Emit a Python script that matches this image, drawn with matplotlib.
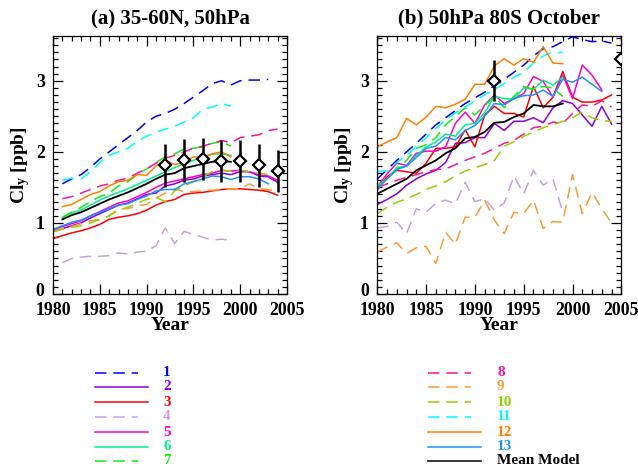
import matplotlib
matplotlib.use("Agg")
import matplotlib.pyplot as plt
from matplotlib.lines import Line2D
from matplotlib.ticker import MultipleLocator, FixedLocator
from matplotlib.transforms import ScaledTranslation
import numpy as np

plt.rcParams['font.family'] = ['Liberation Serif', 'DejaVu Serif']
plt.rcParams['font.weight'] = 'bold'
plt.rcParams['mathtext.fontset'] = 'custom'
plt.rcParams['mathtext.rm'] = 'Liberation Serif:bold'
plt.rcParams['mathtext.it'] = 'Liberation Serif:bold'
plt.rcParams['mathtext.bf'] = 'Liberation Serif:bold'

# ---------------- Data: panel (a) 35-60N, 50hPa ----------------
a_years_1 = list(range(1981, 2004))
a_m1 = [1.55, 1.62, 1.68, 1.78, 1.90, 2.00, 2.10, 2.20, 2.30, 2.42, 2.50, 2.54, 2.60, 2.68,
        2.77, 2.86, 2.96, 3.00, 2.94, 3.00, 3.01, 3.01, 3.02]
a_years_2 = list(range(1980, 2005))
a_m2 = [0.88, 0.92, 0.96, 1.00, 1.07, 1.13, 1.19, 1.25, 1.28, 1.34, 1.40, 1.42, 1.52, 1.55,
        1.60, 1.62, 1.66, 1.68, 1.70, 1.68, 1.72, 1.72, 1.66, 1.65, 1.57]
a_years_3 = list(range(1980, 2005))
a_m3 = [0.78, 0.82, 0.86, 0.89, 0.93, 0.98, 1.05, 1.08, 1.10, 1.13, 1.18, 1.25, 1.30, 1.33,
        1.40, 1.42, 1.43, 1.45, 1.47, 1.48, 1.48, 1.47, 1.46, 1.44, 1.39]
a_years_4 = list(range(1981, 2000))
a_m4 = [0.44, 0.50, 0.52, 0.53, 0.53, 0.54, 0.58, 0.56, 0.59, 0.60, 0.68, 0.93, 0.71, 0.88,
        0.84, 0.80, 0.76, 0.77, 0.76]
a_years_5 = list(range(1980, 2005))
a_m5 = [0.90, 0.95, 0.99, 1.03, 1.10, 1.16, 1.22, 1.28, 1.31, 1.37, 1.43, 1.50, 1.56, 1.59,
        1.62, 1.65, 1.68, 1.70, 1.74, 1.73, 1.74, 1.72, 1.68, 1.66, 1.60]
a_years_6 = list(range(1981, 2000))
a_m6 = [1.08, 1.14, 1.18, 1.25, 1.32, 1.38, 1.43, 1.48, 1.54, 1.60, 1.66, 1.72, 1.78, 1.83,
        1.88, 1.93, 1.97, 1.97, 1.95]
a_years_7 = list(range(1981, 2000))
a_m7 = [1.08, 1.15, 1.22, 1.30, 1.37, 1.42, 1.52, 1.58, 1.68, 1.76, 1.85, 1.93, 1.97, 2.04,
        2.05, 2.07, 2.12, 2.14, 2.08]
a_years_8 = list(range(1981, 2005))
a_m8 = [1.34, 1.37, 1.42, 1.47, 1.52, 1.55, 1.60, 1.63, 1.70, 1.76, 1.84, 1.91, 1.95, 2.00,
        2.05, 2.08, 2.12, 2.16, 2.13, 2.20, 2.22, 2.24, 2.30, 2.32]
a_years_9 = list(range(1980, 2005))
a_m9 = [0.88, 0.92, 0.95, 0.99, 1.03, 1.05, 1.10, 1.20, 1.20, 1.24, 1.26, 1.35, 1.42, 1.48,
        1.44, 1.44, 1.45, 1.46, 1.47, 1.48, 1.48, 1.55, 1.48, 1.47, 1.44]
a_years_10 = list(range(1980, 2005))
a_m10 = [0.88, 0.91, 0.94, 0.96, 1.00, 1.05, 1.10, 1.18, 1.22, 1.28, 1.33, 1.36, 1.30, 1.45,
         1.52, 1.58, 1.65, 1.72, 1.74, 1.73, 1.74, 1.72, 1.70, 1.68, 1.67]
a_years_11 = list(range(1981, 2000))
a_m11 = [1.60, 1.63, 1.62, 1.72, 1.85, 1.95, 2.00, 2.05, 2.15, 2.22, 2.28, 2.32, 2.36, 2.42,
         2.48, 2.60, 2.63, 2.68, 2.64]
a_years_12 = list(range(1981, 2000))
a_m12 = [1.23, 1.26, 1.33, 1.40, 1.44, 1.52, 1.58, 1.60, 1.68, 1.67, 1.80, 1.88, 1.82, 1.85,
         1.93, 1.92, 1.97, 2.00, 1.93]
a_years_13 = list(range(1980, 2004))
a_m13 = [0.91, 0.96, 1.01, 1.04, 1.10, 1.15, 1.20, 1.25, 1.27, 1.33, 1.38, 1.45, 1.47, 1.47,
         1.55, 1.58, 1.62, 1.66, 1.65, 1.61, 1.65, 1.65, 1.62, 1.55]
a_years_mean = list(range(1981, 2000))
a_mean = [1.05, 1.11, 1.15, 1.21, 1.27, 1.33, 1.38, 1.43, 1.49, 1.55, 1.62, 1.68, 1.70, 1.77,
          1.80, 1.83, 1.86, 1.87, 1.86]
a_obs_years = [1992, 1994, 1996, 1998, 2000, 2002, 2004]
a_obs = [1.81, 1.88, 1.90, 1.87, 1.87, 1.81, 1.73]
a_obs_err = [0.30, 0.30, 0.30, 0.30, 0.30, 0.30, 0.30]

# ---------------- Data: panel (b) 50hPa 80S October ----------------
b_years_1 = list(range(1980, 2005))
b_m1 = [1.62, 1.75, 1.88, 2.00, 2.12, 2.25, 2.38, 2.48, 2.58, 2.68, 2.76, 2.84, 2.93, 3.02,
        3.12, 3.22, 3.35, 3.45, 3.48, 3.55, 3.62, 3.58, 3.55, 3.56, 3.53]
b_years_2 = list(range(1980, 2005))
b_m2 = [1.26, 1.33, 1.41, 1.53, 1.62, 1.69, 1.74, 1.85, 2.12, 2.13, 2.20, 2.20, 2.40, 2.30,
        2.43, 2.43, 2.48, 2.41, 2.62, 2.72, 2.68, 2.52, 2.36, 2.64, 2.39]
b_years_3 = list(range(1980, 2005))
b_m3 = [1.46, 1.65, 1.74, 1.72, 1.70, 1.84, 2.05, 2.05, 2.07, 2.31, 2.07, 2.52, 2.64, 2.54,
        2.54, 2.49, 2.92, 2.62, 2.77, 3.13, 2.77, 2.70, 2.70, 2.73, 2.80]
b_years_4 = list(range(1980, 2000))
b_m4 = [0.93, 0.95, 1.01, 0.85, 1.20, 1.15, 1.28, 1.32, 1.27, 1.57, 1.30, 1.34, 1.18, 1.28,
        1.66, 1.41, 1.74, 1.53, 1.62, 1.15]
b_years_5 = list(range(1980, 2004))
b_m5 = [1.51, 1.69, 1.84, 1.81, 1.98, 2.01, 2.01, 2.07, 2.40, 2.56, 2.40, 2.66, 2.80, 2.68,
        2.75, 2.82, 3.06, 2.99, 2.77, 3.08, 2.75, 3.22, 3.08, 2.87]
b_years_6 = list(range(1980, 2000))
b_m6 = [1.52, 1.62, 1.78, 1.80, 1.95, 2.07, 2.14, 2.25, 2.22, 2.38, 2.40, 2.55, 2.78, 2.75,
        2.74, 2.90, 2.88, 3.01, 2.94, 3.05]
b_years_7 = list(range(1980, 2000))
b_m7 = [1.50, 1.62, 1.75, 1.88, 2.05, 2.10, 2.20, 2.38, 2.50, 2.62, 2.52, 2.65, 2.78, 2.62,
        2.78, 2.92, 2.88, 2.92, 2.90, 2.78]
b_years_8 = list(range(1980, 2005))
b_m8 = [1.50, 1.55, 1.60, 1.64, 1.68, 1.72, 1.75, 1.76, 1.82, 1.88, 1.93, 1.98, 2.05, 2.12,
        2.16, 2.25, 2.34, 2.36, 2.42, 2.40, 2.54, 2.66, 2.64, 2.72, 2.63]
b_years_9 = list(range(1980, 2005))
b_m9 = [0.59, 0.66, 0.72, 0.57, 0.65, 0.67, 0.43, 0.87, 0.70, 1.08, 1.08, 1.32, 1.04, 0.85,
        1.15, 1.13, 1.32, 0.92, 1.02, 1.01, 1.68, 1.13, 1.43, 1.20, 1.00]
b_years_10 = list(range(1980, 2005))
b_m10 = [1.13, 1.22, 1.29, 1.34, 1.40, 1.47, 1.52, 1.58, 1.66, 1.73, 1.78, 1.82, 1.88, 2.08,
         2.14, 2.22, 2.28, 2.34, 2.38, 2.43, 2.48, 2.56, 2.48, 2.44, 2.43]
b_years_11 = list(range(1980, 2000))
b_m11 = [1.73, 1.73, 1.85, 1.95, 2.07, 2.20, 2.33, 2.45, 2.55, 2.63, 2.72, 2.80, 2.88, 2.96,
         3.05, 3.12, 3.25, 3.35, 3.40, 3.40]
b_years_12 = list(range(1980, 2000))
b_m12 = [2.07, 2.14, 2.20, 2.47, 2.38, 2.49, 2.64, 2.62, 2.67, 2.74, 2.95, 2.95, 3.21, 3.31,
         3.22, 3.31, 3.26, 3.48, 3.25, 3.24]
b_years_13 = list(range(1980, 2004))
b_m13 = [1.48, 1.62, 1.75, 1.80, 1.92, 2.05, 2.08, 2.20, 2.17, 2.30, 2.37, 2.50, 2.68, 2.66,
         2.75, 2.79, 2.80, 2.87, 2.78, 3.02, 2.98, 3.05, 2.95, 2.85]
b_years_mean = list(range(1980, 2000))
b_mean = [1.41, 1.48, 1.55, 1.62, 1.74, 1.81, 1.88, 1.98, 2.05, 2.19, 2.21, 2.28, 2.41, 2.42,
          2.49, 2.54, 2.66, 2.64, 2.64, 2.68]
b_obs_years = [1992]
b_obs = [3.00]
b_obs_err = [0.29]
b_obs2_years = [2005]
b_obs2 = [3.30]

x_ticks = [1980, 1985, 1990, 1995, 2000, 2005]
y_ticks = [0, 1, 2, 3]

labels = ['1', '2', '3', '4', '5', '6', '7', '8', '9', '10', '11', '12', '13', 'Mean Model']
colors = ['#0000ff', '#8a00dd', '#ff0000', '#c8a0e0', '#ff00cc', '#00f090', '#11ee11',
          '#ff1493', '#ff9933', '#99cc00', '#00ffff', '#ff8000', '#1e90ff', '#000000']
dashed = [True, False, False, True, False, False, True, True, True, True, True, False, False, False]

a_series = [(a_years_1, a_m1), (a_years_2, a_m2), (a_years_3, a_m3), (a_years_4, a_m4),
            (a_years_5, a_m5), (a_years_6, a_m6), (a_years_7, a_m7), (a_years_8, a_m8),
            (a_years_9, a_m9), (a_years_10, a_m10), (a_years_11, a_m11), (a_years_12, a_m12),
            (a_years_13, a_m13), (a_years_mean, a_mean)]
b_series = [(b_years_1, b_m1), (b_years_2, b_m2), (b_years_3, b_m3), (b_years_4, b_m4),
            (b_years_5, b_m5), (b_years_6, b_m6), (b_years_7, b_m7), (b_years_8, b_m8),
            (b_years_9, b_m9), (b_years_10, b_m10), (b_years_11, b_m11), (b_years_12, b_m12),
            (b_years_13, b_m13), (b_years_mean, b_mean)]

W, H = 638, 468
fig = plt.figure(figsize=(W / 100, H / 100), dpi=100)
ax_a = fig.add_axes([53 / W, 1 - 294 / H, 234 / W, 258 / H])
ax_b = fig.add_axes([377.3 / W, 1 - 294 / H, 244 / W, 258 / H])

DASH = (7.5, 4.5)


def draw(ax, series, title):
    for (x, y), c, d in zip(series, colors, dashed):
        ls = (0, DASH) if d else '-'
        lw = 1.3 if c == '#000000' else 1.1
        ax.plot(x, y, color=c, ls=ls, lw=lw, zorder=2)
    ax.set_xlim(1980, 2005)
    ax.set_ylim(0, 3.63)
    ax.xaxis.set_major_locator(FixedLocator(x_ticks))
    ax.xaxis.set_minor_locator(MultipleLocator(1))
    ax.yaxis.set_major_locator(FixedLocator(y_ticks))
    ax.yaxis.set_minor_locator(MultipleLocator(0.1))
    ax.tick_params(which='both', direction='in', top=True, right=True, labelsize=12.8, width=0.9)
    ax.tick_params(which='major', length=7, pad=6)
    ax.tick_params(which='minor', length=3.5)
    for s in ax.spines.values():
        s.set_linewidth(0.9)
    ax.set_title(title, fontsize=15, fontweight='bold', pad=9)
    ax.set_xlabel('Year', fontsize=14, fontweight='bold', labelpad=-2)
    ax.set_ylabel('Cl$_\\mathrm{y}$ [ppb]', fontsize=14, fontweight='bold', labelpad=3)
    fig.canvas.draw()
    for t in ax.yaxis.get_major_ticks():
        if t.get_loc() == 0:
            t.label1.set_transform(t.label1.get_transform() +
                                   ScaledTranslation(0, 5 / 100, fig.dpi_scale_trans))


draw(ax_a, a_series, '(a) 35-60N, 50hPa')
draw(ax_b, b_series, '(b) 50hPa 80S October')

ax_a.errorbar(a_obs_years, a_obs, yerr=a_obs_err, fmt='D', color='black', ms=6.5,
              mfc='white', mew=1.6, elinewidth=1.8, capsize=0, zorder=5)
ax_b.errorbar(b_obs_years, b_obs, yerr=b_obs_err, fmt='D', color='black', ms=6.5,
              mfc='white', mew=1.6, elinewidth=1.8, capsize=0, zorder=5)
ax_b.plot(b_obs2_years, b_obs2, 'D', color='black', ms=6.5, mfc='white', mew=1.6, zorder=5)

# legend (figure coordinates)
row_y = [372.5, 387, 402, 417, 432, 447, 461]
for i, (lab, c, d) in enumerate(zip(labels, colors, dashed)):
    col = 0 if i < 7 else 1
    yy = 1 - row_y[i % 7] / H
    x0 = 95 if col == 0 else 428
    x1 = x0 + (43 if d else 53)
    tx = 163 if col == 0 else 497
    ls = (0, DASH) if d else '-'
    fig.add_artist(Line2D([x0 / W, x1 / W], [yy, yy], color=c, ls=ls, lw=1.1))
    fig.text(tx / W, yy, lab, color=c, fontsize=11, fontweight='bold', va='center', ha='left')

fig.savefig('out.png', dpi=100)
